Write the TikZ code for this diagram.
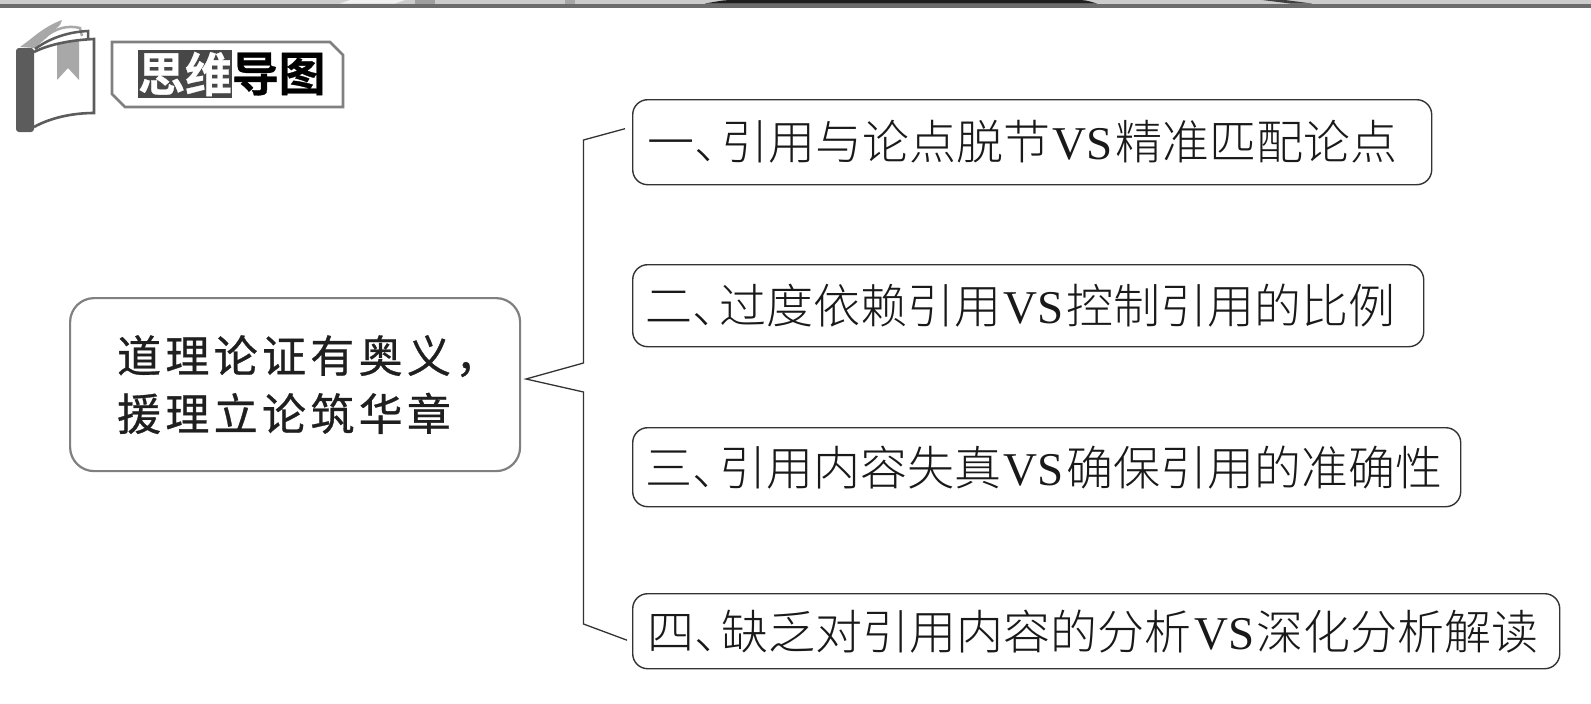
\documentclass[tikz,border=0pt]{standalone}
\usepackage{fontspec}
\setmainfont{Liberation Serif}
\newfontfamily\cjk{Noto Sans CJK SC Light}
\newfontfamily\cjkroot[LetterSpace=9.8,FakeBold=0.7]{Noto Sans CJK SC}
\newfontfamily\cjktitle[FakeBold=0.6]{Noto Sans CJK SC Bold}
\newfontfamily\latinvs{Liberation Serif}
\newcommand{\dun}{、\kern-.42em}
\newcommand{\vs}{\kern.05em{\latinvs VS}\kern.05em}
\definecolor{framegray}{gray}{0.5}
\definecolor{linegray}{gray}{0.2}
\definecolor{bookdark}{gray}{0.36}
\definecolor{bookmid}{gray}{0.66}
\tikzset{
  branch/.style={draw=linegray,line width=1.4pt,rounded corners=15pt,inner sep=0pt,font=\fontsize{47}{50}\selectfont\cjk,anchor=north west,text=black!90},
  rootbox/.style={draw=framegray,line width=2.2pt,rounded corners=24pt,inner xsep=20pt,inner ysep=0pt,text width=410pt,anchor=north west,align=left,font=\fontsize{44}{58}\selectfont\cjkroot,text=black!88},
  bracket/.style={draw=linegray,line width=1.3pt,line join=miter},
  titletext/.style={inner sep=0pt,font=\fontsize{47}{47}\selectfont\cjktitle}
}
\begin{document}
\begin{tikzpicture}[x=1pt,y=-1pt]
\useasboundingbox (0,0) rectangle (1591,704);
% top strip
\fill[gray!40] (0,0) rectangle (1591,3.5);
\fill[gray!12] (350,0) -- (405,0) -- (395,3.5) -- (340,3.5) -- cycle;
\fill[gray!75] (415,0) rectangle (435,3.5);
\fill[gray!70] (565,0) rectangle (575,3.5);
\fill[black!88] (705,3.5) .. controls (725,0) .. (735,0) -- (1075,0) .. controls (1085,0) .. (1097,3.5) -- cycle;
\fill[black!75] (1262,0) -- (1285,0) -- (1312,3.5) -- (1290,3.5) -- cycle;
\fill[gray!85!black] (0,3.5) rectangle (1591,7.5);
% book icon
\fill[bookmid] (20,47) .. controls (33,38) and (43,27) .. (62,20) -- (60,25) .. controls (47,37) and (42,42) .. (35,48) -- cycle;
\draw[bookmid,line width=2.5pt] (44,38) .. controls (55,28) and (68,25) .. (80,28) -- (82,36);
\draw[bookdark,line width=2.5pt] (35,49) .. controls (50,38) and (68,32) .. (88,31) -- (88,40);
\fill[white] (34,52) .. controls (50,44) and (72,40) .. (94,39) -- (94,113) .. controls (72,113) and (50,118) .. (34,127) -- cycle;
\fill[bookmid] (57,43) -- (79,40) -- (79,80) -- (68,68) -- (57,80) -- cycle;
\draw[bookdark,line width=2.6pt] (34,52) .. controls (50,44) and (72,40) .. (94,39) -- (94,113) .. controls (72,113) and (50,118) .. (34,127);
\fill[bookdark,rounded corners=3pt] (16,48) -- (34,48) -- (34,132) -- (16,132) -- cycle;
% title
\draw[framegray,line width=2.6pt] (112,42) -- (330,42) -- (343,55) -- (343,107) -- (125,107) -- (112,94) -- cycle;
\fill[black!72] (138,50) rectangle (232,98);
\node[titletext,text=white] (t1) at (161.5,74) {思};
\node[titletext,text=white] (t2) at (208.5,74) {维};
\node[titletext,text=black] (t3) at (255.5,74) {导};
\node[titletext,text=black] (t4) at (302,74) {图};
% root
\node[rootbox,minimum width=450pt,minimum height=173pt] (root) at (69,297) {\hspace*{27pt}道理论证有奥义，\\\hspace*{27pt}援理立论筑华章};
% branches
\node[branch,minimum width=799pt,minimum height=85pt] (b1) at (632,99) {一\dun 引用与论点脱节\vs 精准匹配论点\kern20pt};
\node[branch,minimum width=791pt,minimum height=82pt] (b2) at (632,264) {二\dun 过度依赖引用\vs 控制引用的比例\kern16pt};
\node[branch,minimum width=828pt,minimum height=79pt] (b3) at (632,427) {三\dun 引用内容失真\vs 确保引用的准确性\kern6pt};
\node[branch,minimum width=927pt,minimum height=75pt] (b4) at (632,593) {四\dun 缺乏对引用内容的分析\vs 深化分析解读\kern6pt};
% bracket
\coordinate (tip) at (526,379);
\coordinate (tu) at (583.5,363);
\coordinate (ttop) at (583.5,140);
\coordinate (tl) at (583.5,392);
\coordinate (tbot) at (583.5,624);
\draw[bracket] ([xshift=-7pt,yshift=13.5pt]b1.west) -- (ttop) -- (tu) -- (tip) -- (tl) -- (tbot) -- ([xshift=-5pt,yshift=-9pt]b4.west);
\end{tikzpicture}
\end{document}
